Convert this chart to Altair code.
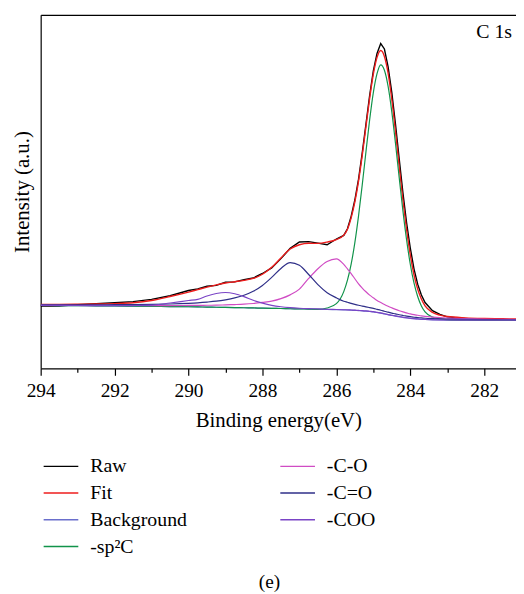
import altair as alt
import pandas as pd

# Binding energy grid (eV)
energy = [294, 293.5, 293, 292.5, 292, 291.5, 291, 290.5, 290, 289.75, 289.5, 289.25, 289,
          288.75, 288.5, 288.25, 288, 287.75, 287.5, 287.25, 287, 286.75, 286.5, 286.25, 286,
          285.8, 285.7, 285.6, 285.5, 285.4, 285.3, 285.2, 285.1, 285.0, 284.9, 284.8, 284.7,
          284.6, 284.5, 284.4, 284.3, 284.2, 284.1, 284.0, 283.9, 283.8, 283.7, 283.6, 283.4,
          283.2, 283.0, 282.5, 282, 281.5, 281.1]

raw = [63.0, 62.8, 64.4, 65.3, 66.3, 67.4, 69.6, 73.3, 78.6, 80.2, 82.9, 83.8, 86.9,
       87.3, 89.6, 91.2, 95.8, 101.4, 110.8, 121.2, 127.6, 128.0, 126.4, 124.8, 130.6,
       134.2, 141.0, 153.5, 170.0, 191.0, 217.5, 246.5, 275.5, 300.5, 318.0, 328.0, 322.5,
       304.5, 278.5, 246.5, 211.5, 177.5, 147.0, 121.5, 100.5, 85.0, 74.0, 66.5, 58.3,
       54.4, 52.0, 50.2, 49.3, 48.8, 48.4]

fit = [64.5, 64.6, 64.8, 65.0, 65.4, 66.2, 68.5, 72.5, 77.0, 79.5, 82.0, 84.3, 86.2,
       87.5, 88.8, 90.8, 95.0, 102.0, 111.5, 120.5, 124.8, 126.3, 126.2, 127.5, 130.0,
       134.5, 140.5, 152.0, 168.0, 189.0, 215.0, 244.0, 272.5, 297.0, 314.0, 321.0, 315.0,
       298.0, 271.5, 239.0, 204.0, 170.0, 140.0, 114.5, 94.5, 80.0, 70.0, 63.0, 56.5,
       53.8, 52.3, 51.0, 50.4, 50.1, 49.8]

background = [63.5, 63.4, 63.3, 63.1, 63.0, 62.8, 62.6, 62.4, 62.2, 62.0, 61.9, 61.7, 61.6,
              61.4, 61.2, 61.0, 60.8, 60.6, 60.4, 60.2, 60.0, 59.8, 59.6, 59.4, 59.2,
              59.0, 58.9, 58.7, 58.5, 58.3, 58.1, 57.8, 57.4, 57.0, 56.4, 55.8, 55.0,
              54.2, 53.5, 52.8, 52.1, 51.5, 51.0, 50.5, 50.1, 49.8, 49.5, 49.3, 49.0,
              48.8, 48.7, 48.6, 48.5, 48.5, 48.5]

sp2c = [63.5, 63.4, 63.3, 63.1, 63.0, 62.8, 62.6, 62.4, 62.2, 62.0, 61.9, 61.7, 61.6,
        61.4, 61.2, 61.0, 60.8, 60.6, 60.4, 60.2, 60.0, 59.8, 59.6, 60.9, 65.3,
        77.5, 89.0, 105.2, 126.9, 153.9, 185.3, 218.6, 250.9, 278.5, 297.6, 306.5, 301.0,
        284.7, 259.0, 227.0, 192.6, 159.3, 129.7, 105.1, 86.2, 72.5, 63.0, 57.0, 51.8,
        50.0, 49.1, 48.6, 48.5, 48.5, 48.5]

c_o = [63.8, 63.75, 63.7, 63.6, 63.6, 63.5, 63.4, 63.4, 63.5, 63.5, 63.7, 63.8, 64.1,
       64.4, 64.8, 65.5, 66.6, 67.9, 70.4, 74.2, 80.0, 90.8, 100.6, 107.9, 110.5,
       105.0, 100.4, 95.7, 90.5, 85.3, 81.1, 77.3, 73.9, 71.2, 68.6, 66.5, 64.5,
       62.7, 61.1, 59.6, 58.2, 57.0, 56.0, 55.0, 54.2, 53.6, 53.0, 52.5, 51.8,
       51.2, 50.8, 50.2, 49.7, 49.5, 49.3]

c_eq_o = [64.1, 64.1, 64.2, 64.1, 64.3, 64.4, 64.6, 65.0, 65.7, 66.2, 66.9, 67.8, 69.2,
          71.1, 73.8, 77.8, 83.7, 91.8, 100.9, 106.8, 104.1, 94.8, 84.6, 76.4, 71.2,
          67.8, 66.7, 65.6, 64.6, 63.7, 62.9, 62.1, 61.3, 60.5, 59.6, 58.7, 57.7,
          56.7, 55.8, 55.0, 54.1, 53.4, 52.8, 52.2, 51.6, 51.3, 50.9, 50.6, 50.2,
          49.9, 49.7, 49.4, 49.2, 49.1, 49.0]

coo = [63.6, 63.5, 63.45, 63.3, 63.25, 63.4, 63.8, 66.0, 68.5, 69.7, 73.1, 75.6, 76.6,
       75.3, 72.4, 68.7, 65.8, 63.6, 62.2, 61.3, 60.7, 60.3, 60.0, 59.7, 59.45,
       59.2, 59.1, 58.9, 58.7, 58.5, 58.3, 58.0, 57.6, 57.2, 56.55, 55.95, 55.1,
       54.3, 53.6, 52.9, 52.2, 51.6, 51.1, 50.6, 50.2, 49.9, 49.6, 49.4, 49.1,
       48.9, 48.8, 48.7, 48.6, 48.6, 48.6]

series_names = ["Raw", "Fit", "Background", "-sp²C", "-C-O", "-C=O", "-COO"]
series_values = [raw, fit, background, sp2c, c_o, c_eq_o, coo]
series_colors = ["#000000", "#ee1c1c", "#6a6fcc", "#11934a", "#d04cc4", "#2f2f88", "#7a44c6"]

FONT = "Liberation Serif"
W, H = 480, 357

color_scale = alt.Scale(domain=series_names, range=series_colors)
legend = alt.Legend(title=None, orient="none", legendX=10.5, legendY=446, columns=2,
                    symbolType="M-2.5,0H2.5", symbolSize=196, symbolStrokeWidth=1.5,
                    labelFont=FONT, labelFontSize=20, labelColor="black", labelOffset=19.5,
                    rowPadding=7, columnPadding=90, padding=0)

xscale = alt.Scale(domain=[281.14, 294], reverse=True, nice=False, zero=False)
yscale = alt.Scale(domain=[0, H], nice=False, zero=False)

x_bottom = alt.Axis(values=list(range(282, 295)),
                    labelExpr="datum.value % 2 === 0 ? datum.label : ''",
                    tickSize={"condition": {"test": "datum.value % 2 === 0", "value": 7}, "value": 4},
                    tickColor="black", tickWidth=1.2, domainColor="black", domainWidth=1.2,
                    labelFont=FONT, labelFontSize=19.5, labelColor="black", labelPadding=6,
                    labelFlush=False, labelOverlap=False, grid=False,
                    title="Binding energy(eV)", titleFont=FONT, titleFontSize=21,
                    titleFontWeight="normal", titleColor="black", titlePadding=10)
x_top = alt.Axis(orient="top", labels=False, ticks=False, domain=True, grid=False,
                 domainColor="black", domainWidth=1.2, title=None)
y_left = alt.Axis(labels=False, ticks=False, domain=True, grid=False, domainColor="black",
                  domainWidth=1.2, title="Intensity (a.u.)", titleFont=FONT, titleFontSize=21,
                  titleFontWeight="normal", titleColor="black", titlePadding=8)

widths = [1.4, 1.4, 1.2, 1.2, 1.2, 1.2, 1.2]
layers = []
for i, (name, vals) in enumerate(zip(series_names, series_values)):
    df = pd.DataFrame({"energy": energy, "intensity": vals, "series": name})
    ax_x = x_bottom if i == 0 else (x_top if i == 1 else None)
    layers.append(
        alt.Chart(df).mark_line(strokeWidth=widths[i],
                                interpolate="linear" if name == "Raw" else "monotone",
                                clip=True).encode(
            x=alt.X("energy:Q", scale=xscale, axis=ax_x),
            y=alt.Y("intensity:Q", scale=yscale, axis=y_left),
            color=alt.Color("series:N", scale=color_scale, legend=legend),
        )
    )

c1s = alt.Chart(pd.DataFrame({"t": ["C 1s"]})).mark_text(
    font=FONT, fontSize=20, align="right", baseline="middle", color="black"
).encode(text="t:N", x=alt.value(476), y=alt.value(17))

caption = alt.Chart(pd.DataFrame({"t": ["(e)"]})).mark_text(
    font=FONT, fontSize=19.5, align="center", baseline="middle", color="black"
).encode(text="t:N", x=alt.value(231), y=alt.value(573))

chart = alt.layer(*layers, c1s, caption).resolve_axis(x="independent").properties(
    width=W, height=H, padding={"left": 4, "top": 4, "right": 0, "bottom": 0}
).configure_view(stroke=None)

chart.save("out.html", embed_options={"renderer": "svg", "actions": False})
